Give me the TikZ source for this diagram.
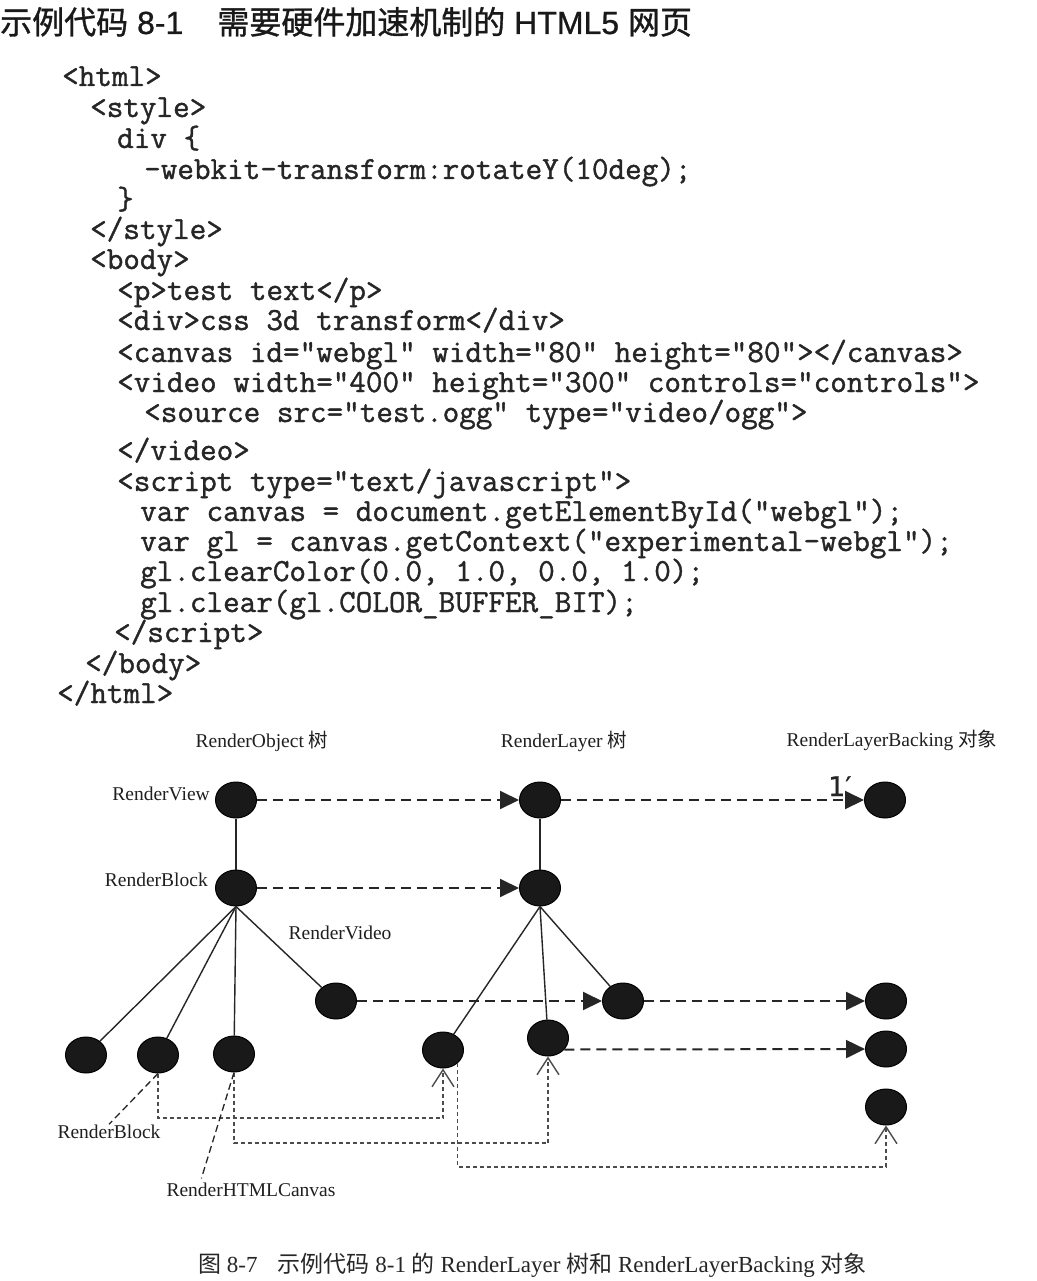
\documentclass[tikz,border=0pt]{standalone}
\usepackage{fontspec}
\setmainfont{Liberation Serif}
\newfontfamily\cjk{Noto Sans CJK SC}
\newfontfamily\cjkb{Noto Sans CJK SC}[FakeBold=1]
\newfontfamily\titlefont{Liberation Sans}[FakeBold=0.8]
\newfontfamily\codefont{Latin Modern Mono}[FakeBold=1.2]
\newfontfamily\primefont{DejaVu Sans}[FakeBold=0.6]
\usepackage{tikz}
\usetikzlibrary{calc}
\usetikzlibrary{positioning}
\usetikzlibrary{shapes.geometric}
\usetikzlibrary{arrows.meta}

\begin{document}
\begin{tikzpicture}[x=1pt, y=-1pt,
  code/.style={anchor=base west, inner sep=0, text=black!85, font=\codefont\fontsize{32.2}{32.2}\selectfont},
  lab/.style={inner sep=0, anchor=base, text=black!88, font=\fontsize{19.5}{19.5}\selectfont},
  dot/.style={ellipse, draw=black, line width=1pt, fill=black!90, minimum width=41pt, minimum height=36pt, inner sep=0},
  tree/.style={line width=1.4pt, black!85},
  map/.style={line width=2pt, black!85, dash pattern=on 10pt off 6pt, -{Triangle[length=19pt,width=18pt]}},
  link/.style={line width=1.2pt, black!70, dash pattern=on 4pt off 3pt, -{Straight Barb[length=17pt,width=22pt,line width=1.4pt]}},
  pointer/.style={line width=1.3pt, black!85, dash pattern=on 7pt off 4pt}]

\useasboundingbox[fill=white] (0,0) rectangle (1036,1281);

% code listing
\node[anchor=base west, inner sep=0, text=black!90, font=\titlefont\fontsize{32}{32}\selectfont] (title) at (0,34) {{\cjkb 示例代码} 8-1\hspace{34pt}{\cjkb 需要硬件加速机制的} HTML5 {\cjkb 网页}};

\node[code] (c1) at (62,86) {<html>};
\node[code] (c2) at (90,117) {<style>};
\node[code] (c3) at (117,148) {div \{};
\node[code] (c4) at (144,179) {-webkit-transform:rotateY(10deg);};
\node[code] (c5) at (117,209) {\}};
\node[code] (c6) at (90,239) {</style>};
\node[code] (c7) at (90,269) {<body>};
\node[code] (c8) at (117,300) {<p>test text</p>};
\node[code] (c9) at (117,330) {<div>css 3d transform</div>};
\node[code] (c10) at (117,362) {<canvas id="webgl" width="80" height="80"></canvas>};
\node[code] (c11) at (117,392) {<video width="400" height="300" controls="controls">};
\node[code] (c12) at (144,422) {<source src="test.ogg" type="video/ogg">};
\node[code] (c13) at (117,460) {</video>};
\node[code] (c14) at (117,491) {<script type="text/javascript">};
\node[code] (c15) at (140,521) {var canvas = document.getElementById("webgl");};
\node[code] (c16) at (140,551) {var gl = canvas.getContext("experimental-webgl");};
\node[code] (c17) at (140,581) {gl.clearColor(0.0, 1.0, 0.0, 1.0);};
\node[code] (c18) at (140,612) {gl.clear(gl.COLOR\_BUFFER\_BIT);};
\node[code] (c19) at (114,642) {</script>};
\node[code] (c20) at (85,673) {</body>};
\node[code] (c21) at (57,703) {</html>};

% column headings
\node[lab] (h1) at (262,747) {RenderObject {\cjk 树}};
\node[lab] (h2) at (564,747) {RenderLayer {\cjk 树}};
\node[lab] (h3) at (892,746) {RenderLayerBacking {\cjk 对象}};

% RenderObject tree
\node[dot] (o1) at (236,800) {};
\node[dot] (o2) at (236,888) {};
\node[dot] (o3) at (86,1055) {};
\node[dot] (o4) at (158,1055) {};
\node[dot] (o5) at (234,1054) {};
\node[dot] (o6) at (336,1001) {};

% RenderLayer tree
\node[dot] (l1) at (540,800) {};
\node[dot] (l2) at (540,888) {};
\node[dot] (l3) at (443,1050) {};
\node[dot] (l4) at (548,1038) {};
\node[dot] (l5) at (623,1001) {};

% RenderLayerBacking
\node[dot] (b1) at (885,800) {};
\node[dot] (b2) at (886,1001) {};
\node[dot] (b3) at (886,1049) {};
\node[dot] (b4) at (886,1107) {};

\node[lab, anchor=base east] (n1) at (210,800) {RenderView};
\node[lab, anchor=base east] (n2) at (208,886) {RenderBlock};
\node[lab] (n3) at (340,939) {RenderVideo};
\node[lab] (n4) at (109,1138) {RenderBlock};
\node[lab] (n5) at (251,1196) {RenderHTMLCanvas};

\draw[tree] (o1) -- (o2);
\draw[tree] (o2.south) -- (o3);
\draw[tree] (o2.south) -- (o4);
\draw[tree] (o2.south) -- (o5);
\draw[tree] (o2.south) -- (o6);
\draw[tree] (l1) -- (l2);
\draw[tree] (l2.south) -- (l3);
\draw[tree] (l2.south) -- (l4);
\draw[tree] (l2.south) -- (l5);

\draw[map] (o1) -- (l1);
\draw[map] (o2) -- (l2);
\draw[map] (l1) -- node[pos=0.92, above=3pt, inner sep=0, text=black!85, font=\primefont\fontsize{27}{27}\selectfont] {1′} (b1);
\draw[map] (o6) -- (l5);
\draw[map] (l5) -- (b2);
\draw[map] (l4.-35) -- (b3);

\coordinate (k1) at (443,1118);
\coordinate (k2) at (548,1143);
\coordinate (k3) at (886,1167);
\draw[link] (o4.south) |- (k1) -- (l3.south);
\draw[link] (o5.south) |- (k2) -- (l4.south);
\draw[link] (l3.south east) |- (k3) -- (b4.south);

\draw[pointer] (o4.south) -- (n4.north);
\draw[pointer, shorten >=4pt] (o5.south) -- ($(n5.north west)!0.2!(n5.north east)$);

% caption
\node[anchor=base west, inner sep=0, text=black!85, font=\fontsize{23}{23}\selectfont] (cap) at (198,1272) {{\cjk 图} 8-7\hspace{20pt}{\cjk 示例代码} 8-1 {\cjk 的} RenderLayer {\cjk 树和} RenderLayerBacking {\cjk 对象}};

\end{tikzpicture}
\end{document}
